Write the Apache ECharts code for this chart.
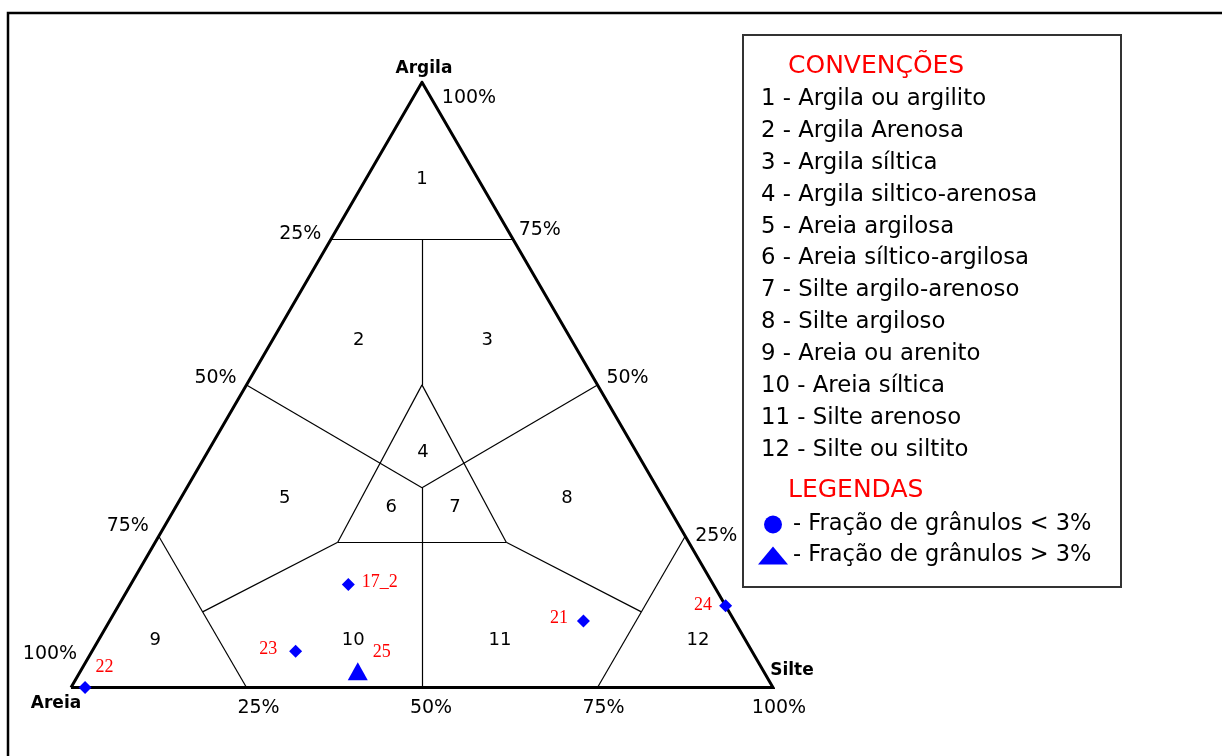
<!DOCTYPE html>
<html>
<head>
<meta charset="utf-8">
<script src="https://cdn.jsdelivr.net/npm/echarts@6/dist/echarts.min.js"></script>
<style>
html, body {margin: 0; padding: 0; background: #fff;}
#chart {width: 1222px; height: 756px;}
</style>
</head>
<body>
<div id="chart"></div>
<script>
// composições em % : [areia, silte, argila]
var amostrasNomes  = ['22', '23', '17_2', '21', '24'];
var amostrasAreia  = [98, 65, 52, 21.5, 0];
var amostrasSilte  = [2, 29, 31, 67.5, 86.5];
var amostrasArgila = [0, 6, 17, 11, 13.5];

var granulosNomes  = ['25'];
var granulosAreia  = [57.8];
var granulosSilte  = [39.5];
var granulosArgila = [2.7];

// limites das classes, pares [areia, silte, argila]
var limites = [
    [[26, 0, 74], [0, 26, 74]],
    [[13, 13, 74], [25, 25, 50]],
    [[50, 0, 50], [33.5, 33.5, 33]],
    [[0, 50, 50], [33.5, 33.5, 33]],
    [[25, 25, 50], [50, 26, 24]],
    [[25, 25, 50], [26, 50, 24]],
    [[50, 26, 24], [26, 50, 24]],
    [[33.5, 33.5, 33], [50, 50, 0]],
    [[50, 26, 24], [75, 12.5, 12.5]],
    [[26, 50, 24], [12.5, 75, 12.5]],
    [[75, 0, 25], [75, 25, 0]],
    [[0, 75, 25], [25, 75, 0]]
];
var contorno = [[100, 0, 0], [0, 100, 0], [0, 0, 100], [100, 0, 0]];

var classesNomes = ['1', '2', '3', '4', '5', '6', '7', '8', '9', '10', '11', '12'];
var classesCentro = [
    [8, 8, 84], [30.3, 12.3, 57.4], [12, 30.6, 57.4], [30.4, 30.7, 38.9],
    [53.9, 14.8, 31.3], [39.5, 30.7, 29.8], [30.4, 39.8, 29.8], [13.7, 55, 31.3],
    [84.1, 8.1, 7.8], [55.9, 36.3, 7.8], [35, 57.2, 7.8], [6.8, 85.4, 7.8]
];

var ticks = [25, 50, 75, 100];
var vertices = ['Areia', 'Silte', 'Argila'];

var convencoes = [
    '1 - Argila ou argilito',
    '2 - Argila Arenosa',
    '3 - Argila síltica',
    '4 - Argila siltico-arenosa',
    '5 - Areia argilosa',
    '6 - Areia síltico-argilosa',
    '7 - Silte argilo-arenoso',
    '8 - Silte argiloso',
    '9 - Areia ou arenito',
    '10 - Areia síltica',
    '11 - Silte arenoso',
    '12 - Silte ou siltito'
];
var legendas = ['- Fração de grânulos < 3%', '- Fração de grânulos > 3%'];

var FONTE = 'DejaVu Sans';

// ternário -> eixo x/y do grid (x = silte + argila/2, y = argila)
function xy(p) {
    return [p[1] + p[2] / 2, p[2]];
}

function pontos(areia, silte, argila) {
    return areia.map(function (a, i) { return xy([a, silte[i], argila[i]]); });
}

var posAmostras = [
    {position: 'right', distance: 4, offset: [0, -20]},
    {position: 'left', distance: 12, offset: [0, -2]},
    {position: 'right', distance: 7, offset: [0, -2]},
    {position: 'left', distance: 9, offset: [0, -3]},
    {position: 'left', distance: 7, offset: [0, -1]}
];

var dadosAmostras = pontos(amostrasAreia, amostrasSilte, amostrasArgila).map(function (v, i) {
    return {value: v, name: amostrasNomes[i], label: posAmostras[i]};
});
var dadosGranulos = pontos(granulosAreia, granulosSilte, granulosArgila).map(function (v, i) {
    return {value: v, name: granulosNomes[i], label: {position: 'right', distance: 5, offset: [0, -19]}};
});

// rótulos dos lados do triângulo
var offEsq = [[-34, 0], [-31, -7], [-31, -10], [-21, -33]];
var offDir = [[31, 0], [30, -7], [30, -4], [47, 16]];
var offBase = [[12, 21], [9, 21], [6, 21], [6, 21]];
var dadosTicks = [];
ticks.forEach(function (t, i) {
    dadosTicks.push({value: xy([t, 0, 100 - t]), label: {formatter: t + '%', offset: offEsq[i]}});
    dadosTicks.push({value: xy([0, 100 - t, t]), label: {formatter: t + '%', offset: offDir[i]}});
    dadosTicks.push({value: xy([100 - t, t, 0]), label: {formatter: t + '%', offset: offBase[i]}});
});
var offVert = [[-15, 16], [19, -17], [2, -14]];
var dadosVertices = vertices.map(function (n, i) {
    var p = [0, 0, 0];
    p[i] = 100;
    return {value: xy(p), label: {formatter: n, offset: offVert[i]}};
});

var dadosClasses = classesCentro.map(function (p, i) {
    return {value: xy(p), label: {formatter: classesNomes[i]}};
});

var graficos = [
    {type: 'rect', shape: {x: 8, y: 13, width: 1300, height: 800},
        style: {fill: 'none', stroke: '#000', lineWidth: 2.5}},
    {type: 'rect', shape: {x: 743, y: 35, width: 378, height: 552},
        style: {fill: 'none', stroke: '#333', lineWidth: 2}},
    {type: 'text', x: 788, y: 66,
        style: {text: 'CONVENÇÕES', fontFamily: FONTE, fontSize: 25, fill: '#ff0000', verticalAlign: 'middle'}},
    {type: 'text', x: 788, y: 490,
        style: {text: 'LEGENDAS', fontFamily: FONTE, fontSize: 25, fill: '#ff0000', verticalAlign: 'middle'}}
];
convencoes.forEach(function (c, i) {
    graficos.push({type: 'text', x: 761, y: 99 + i * 31.9,
        style: {text: c, fontFamily: FONTE, fontSize: 22.8, fill: '#000', verticalAlign: 'middle'}});
});

var rotuloInvisivel = {color: 'rgba(0,0,0,0)', opacity: 1};

var chart = echarts.init(document.getElementById('chart'));
var option = {
    backgroundColor: '#fff',
    animation: false,
    grid: {left: 71, top: 82.3, width: 702, height: 605.2},
    xAxis: {type: 'value', min: 0, max: 100, show: false},
    yAxis: {type: 'value', min: 0, max: 100, show: false},
    legend: {
        orient: 'vertical',
        left: 758,
        top: 513,
        padding: 0,
        itemWidth: 30,
        itemHeight: 18,
        itemGap: 8,
        selectedMode: false,
        textStyle: {fontFamily: FONTE, fontSize: 22.5, color: '#000'},
        data: [{name: legendas[0], icon: 'circle'}, {name: legendas[1], icon: 'triangle'}]
    },
    graphic: graficos,
    series: [
        {
            type: 'lines',
            coordinateSystem: 'cartesian2d',
            silent: true,
            lineStyle: {color: '#000', width: 1.2, opacity: 1},
            data: limites.map(function (s) { return {coords: [xy(s[0]), xy(s[1])]}; })
        },
        {
            type: 'lines',
            coordinateSystem: 'cartesian2d',
            polyline: true,
            silent: true,
            lineStyle: {color: '#000', width: 3, opacity: 1},
            data: [{coords: contorno.map(xy)}]
        },
        {
            type: 'scatter',
            silent: true,
            clip: false,
            symbolSize: 1,
            itemStyle: rotuloInvisivel,
            label: {show: true, position: 'inside', color: '#000', fontFamily: FONTE, fontSize: 18},
            data: dadosClasses
        },
        {
            type: 'scatter',
            silent: true,
            clip: false,
            symbolSize: 1,
            itemStyle: rotuloInvisivel,
            label: {show: true, position: 'inside', color: '#000', fontFamily: FONTE, fontSize: 19},
            data: dadosTicks
        },
        {
            type: 'scatter',
            silent: true,
            clip: false,
            symbolSize: 1,
            itemStyle: rotuloInvisivel,
            label: {show: true, position: 'inside', color: '#000', fontFamily: FONTE, fontSize: 17, fontWeight: 'bold'},
            data: dadosVertices
        },
        {
            name: legendas[0],
            type: 'scatter',
            clip: false,
            symbol: 'diamond',
            symbolSize: 13,
            itemStyle: {color: '#0000ff', opacity: 1},
            label: {show: true, formatter: '{b}', color: '#ff0000', fontFamily: 'Liberation Serif', fontSize: 18},
            data: dadosAmostras
        },
        {
            name: legendas[1],
            type: 'scatter',
            clip: false,
            symbol: 'triangle',
            symbolSize: [20, 18],
            itemStyle: {color: '#0000ff', opacity: 1},
            label: {show: true, formatter: '{b}', color: '#ff0000', fontFamily: 'Liberation Serif', fontSize: 18},
            data: dadosGranulos
        }
    ]
};
chart.setOption(option);
</script>
</body>
</html>
